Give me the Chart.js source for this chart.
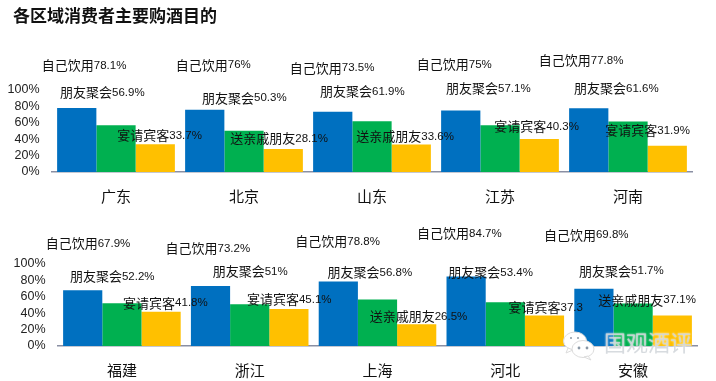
<!DOCTYPE html>
<html>
<head>
<meta charset="utf-8">
<script src="https://cdn.jsdelivr.net/npm/chart.js@4"></script>
<style>
  html, body { margin: 0; background: #fff; }
  #page { position: relative; width: 716px; height: 381px; overflow: hidden; }
  canvas { position: absolute; left: 0; }
  #title { position: absolute; left: 13px; top: 2px; font: bold 17px/26px "Noto Sans CJK SC", sans-serif; color: #111; }
  #mark { position: absolute; left: 562px; top: 331px; }
  #markText { position: absolute; left: 604px; top: 327px; font: 22px/28px "Noto Sans CJK SC", sans-serif;
    color: rgba(205,210,215,0.8); text-shadow: 0 0 2px #fff; white-space: nowrap; }
</style>
</head>
<body>
<div id="page">
  <canvas id="topChart" width="716" height="205" style="top:0"></canvas>
  <canvas id="bottomChart" width="716" height="176" style="top:205px"></canvas>
  <div id="title">各区域消费者主要购酒目的</div>
  <svg id="mark" width="34" height="30" viewBox="0 0 34 30">
    <g fill="#fff" stroke="#dcdcdc" stroke-width="1">
      <ellipse cx="13" cy="10" rx="11.5" ry="9"/>
      <path d="M6 17 L4 22 L11 19 Z"/>
      <ellipse cx="21" cy="18" rx="11" ry="8.5"/>
      <path d="M26 25 L29 29 L22 26 Z"/>
    </g>
    <g fill="#8a97a5">
      <circle cx="17" cy="17" r="1.4"/><circle cx="25" cy="17" r="1.4"/>
      <circle cx="9" cy="7" r="1"/><circle cx="16" cy="7" r="1"/>
    </g>
  </svg>
  <div id="markText">国观酒评</div>
</div>
<script>
const topRegions = ['广东', '北京', '山东', '江苏', '河南']
const topSelf = [78.1, 76, 73.5, 75, 77.8]
const topFriends = [56.9, 50.3, 61.9, 57.1, 61.6]
const topThird = [33.7, 28.1, 33.6, 40.3, 31.9]
const topThirdNames = ['宴请宾客', '送亲戚朋友', '送亲戚朋友', '宴请宾客', '宴请宾客']

const bottomRegions = ['福建', '浙江', '上海', '河北', '安徽']
const bottomSelf = [67.9, 73.2, 78.8, 84.7, 69.8]
const bottomFriends = [52.2, 51, 56.8, 53.4, 51.7]
const bottomThird = [41.8, 45.1, 26.5, 37.3, 37.1]
const bottomThirdNames = ['宴请宾客', '宴请宾客', '送亲戚朋友', '宴请宾客', '送亲戚朋友']
const bottomThirdText = ['41.8%', '45.1%', '26.5%', '37.3', '37.1%']

const yTicks = [0, 20, 40, 60, 80, 100]

// label offsets from the top centre of each bar: [dx of text start, dy of text middle]
const topOffsets = [
  [[-35, -43], [-29, -45], [-43, -44], [-44, -46.5], [-50, -48]],
  [[-56, -33], [-42, -33], [-52, -30], [-54, -37], [-54, -33]],
  [[-38, -9], [-53, -11], [-55, -8], [-45, -13], [-62, -16]]
]
const bottomOffsets = [
  [[-37, -47], [-45, -38], [-43, -40], [-49, -43], [-50, -54]],
  [[-52, -27], [-37, -33], [-50, -27], [-57, -30], [-54, -33]],
  [[-38, -9], [-42, -10], [-47, -8], [-36, -8], [-74, -16]]
]

const CJK = '"Noto Sans CJK SC", sans-serif'
const LATIN = '"Liberation Sans", Arial, sans-serif'

// no datalabels plugin here, so the two part labels get drawn by hand
const barLabels = {
  id: 'barLabels',
  afterDatasetsDraw(chart, args, opts) {
    const ctx = chart.ctx
    ctx.save()
    ctx.fillStyle = '#111'
    ctx.textBaseline = 'middle'
    ctx.textAlign = 'left'
    chart.data.datasets.forEach((ds, i) => {
      chart.getDatasetMeta(i).data.forEach((bar, k) => {
        const name = ds.labelNames[k]
        const text = ds.labelTexts ? ds.labelTexts[k] : ds.data[k] + '%'
        const x = bar.x + opts.offsets[i][k][0]
        const y = bar.y + opts.offsets[i][k][1]
        ctx.font = '13px ' + CJK
        ctx.fillText(name, x, y)
        const w = ctx.measureText(name).width
        ctx.font = '11.5px ' + LATIN
        ctx.fillText(text, x + w, y + 0.5)
      })
    })
    ctx.restore()
  }
}

function makeChart(id, regions, self, friends, third, thirdNames, thirdText, offsets, box) {
  return new Chart(document.getElementById(id), {
    type: 'bar',
    plugins: [barLabels],
    data: {
      labels: regions,
      datasets: [
        { label: '自己饮用', data: self, backgroundColor: '#0070C0', labelNames: regions.map(() => '自己饮用') },
        { label: '朋友聚会', data: friends, backgroundColor: '#00B050', labelNames: regions.map(() => '朋友聚会') },
        { label: '其他', data: third, backgroundColor: '#FFC000', labelNames: thirdNames, labelTexts: thirdText }
      ]
    },
    options: {
      responsive: false,
      animation: false,
      events: [],
      categoryPercentage: 0.92,
      barPercentage: 1,
      layout: { padding: { top: box.top, right: box.right, left: 0, bottom: 0 } },
      plugins: {
        legend: { display: false },
        tooltip: { enabled: false },
        barLabels: { offsets: offsets }
      },
      scales: {
        x: {
          afterFit: s => { s.height = box.xHeight },
          grid: { display: false, drawTicks: false },
          border: { color: '#8A8FA3', width: 1.5 },
          ticks: {
            color: '#111',
            padding: 15,
            maxRotation: 0,
            font: { family: CJK, size: 15 }
          }
        },
        y: {
          min: 0,
          max: 100,
          afterFit: s => { s.width = box.yWidth },
          afterBuildTicks: s => { s.ticks = yTicks.map(v => ({ value: v })) },
          grid: { display: false, drawTicks: false },
          border: { display: false },
          ticks: {
            color: '#222',
            padding: 12.5,
            autoSkip: false,
            callback: v => v + '%',
            font: { family: LATIN, size: 12.5 }
          }
        }
      }
    }
  })
}

const thirdTextTop = topThird.map(v => v + '%')
makeChart('topChart', topRegions, topSelf, topFriends, topThird, topThirdNames, thirdTextTop, topOffsets,
  { top: 90, right: 24, xHeight: 33, yWidth: 52 })
makeChart('bottomChart', bottomRegions, bottomSelf, bottomFriends, bottomThird, bottomThirdNames, bottomThirdText, bottomOffsets,
  { top: 59, right: 19, xHeight: 35, yWidth: 58 })
</script>
</body>
</html>
